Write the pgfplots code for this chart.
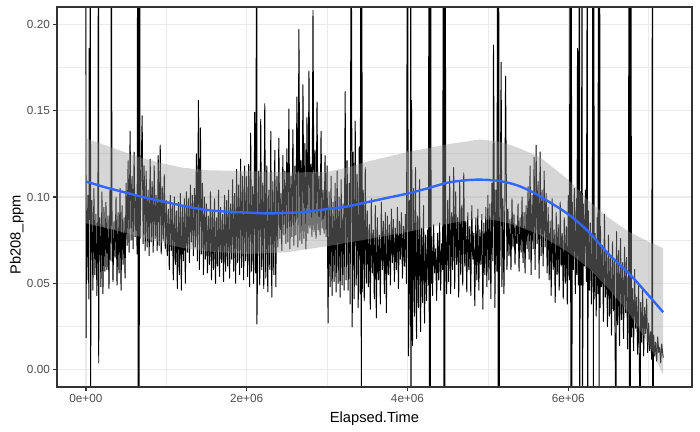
\documentclass[border=0pt]{standalone}
\usepackage{fontspec}
\setmainfont{Liberation Sans}
\usepackage{pgfplots}
\pgfplotsset{compat=1.18}
\definecolor{grey20}{HTML}{333333}
\definecolor{grey30}{HTML}{4D4D4D}
\definecolor{grey60}{HTML}{999999}
\definecolor{grey92}{HTML}{EBEBEB}
\definecolor{smoothblue}{HTML}{3366FF}
\begin{document}
\begin{tikzpicture}
\useasboundingbox (0,0) rectangle (700bp,432bp);
\begin{axis}[name=ax,
  at={(57bp,45bp)}, anchor=south west,
  width=635bp, height=380bp, scale only axis,
  xmin=-0.359, xmax=7.539, ymin=-0.01, ymax=0.21,
  xtick={0,2,4,6}, xticklabels={0e+00,2e+06,4e+06,6e+06},
  ytick={0,0.05,0.1,0.15,0.2}, yticklabels={0.00,0.05,0.10,0.15,0.20},
  minor xtick={1,3,5,7}, minor ytick={0.025,0.075,0.125,0.175},
  grid=both,
  major grid style={grey92, line width=1.42bp},
  minor grid style={grey92, line width=0.71bp},
  tick pos=left, tick align=outside,
  major tick length=3.67bp, minor tick length=0pt,
  tick style={grey20, line width=1.42bp},
  axis line style={grey20, line width=1.42bp},
  ticklabel style={font=\fontsize{11.73bp}{13bp}\selectfont, text=grey30},
]
% raw signal
\addplot[black, line width=0.95bp, line join=round] coordinates {
(0,0.30) (0.003,0.0185) (0.008,0.092) (0.0125,0.052)
(0.025,0.101) (0.0375,0.041) (0.041,0.186)
(0.05,0.087) (0.057,0.30) (0.059,-0.05) (0.0625,0.058)
(0.075,0.098) (0.0875,0.046) (0.1,0.105) (0.1125,0.055)
(0.125,0.090) (0.1375,0.043)
(0.15,0.096) (0.157,0.30) (0.16,0.004) (0.1625,0.060)
(0.175,0.088) (0.1875,0.048) (0.2,0.103) (0.2125,0.044)
(0.225,0.094) (0.2375,0.057)
(0.25,0.097) (0.2625,0.058) (0.275,0.089) (0.2875,0.047)
(0.3,0.104) (0.3125,0.063) (0.315,0.30)
(0.325,0.093) (0.3375,0.051) (0.35,0.086) (0.3625,0.065)
(0.375,0.100) (0.3875,0.049) (0.4,0.091) (0.4125,0.056)
(0.425,0.105) (0.4375,0.046) (0.45,0.095) (0.4625,0.061)
(0.475,0.088) (0.4875,0.053)
(0.5,0.108) (0.5125,0.072) (0.525,0.121) (0.5375,0.068)
(0.55,0.138) (0.5625,0.075) (0.575,0.112) (0.5875,0.070)
(0.6,0.126) (0.6125,0.077) (0.625,0.101) (0.6375,0.067)
(0.645,0.30) (0.651,-0.05) (0.657,0.30) (0.663,-0.05) (0.669,0.30) (0.674,0.076)
(0.7,0.147) (0.7125,0.073) (0.725,0.118) (0.7375,0.069)
(0.75,0.115) (0.7625,0.071) (0.775,0.104) (0.7875,0.066)
(0.8,0.122) (0.8125,0.074) (0.825,0.109) (0.8375,0.068)
(0.85,0.118) (0.8625,0.076) (0.875,0.101) (0.8875,0.069)
(0.9,0.124) (0.9125,0.072) (0.925,0.130) (0.9375,0.067)
(0.95,0.106) (0.9625,0.075) (0.975,0.113) (0.9875,0.070)
(1,0.098) (1.0125,0.066) (1.025,0.093) (1.0375,0.058)
(1.05,0.101) (1.0625,0.069) (1.075,0.095) (1.0875,0.052)
(1.1,0.100) (1.1125,0.061) (1.125,0.092) (1.1375,0.047)
(1.15,0.097) (1.1625,0.055) (1.175,0.102) (1.1875,0.046)
(1.2,0.094) (1.2125,0.063) (1.225,0.099) (1.2375,0.050)
(1.25,0.103) (1.2625,0.068) (1.275,0.099) (1.2875,0.062)
(1.3,0.107) (1.3125,0.074) (1.325,0.101) (1.3375,0.066)
(1.35,0.105) (1.3625,0.071) (1.375,0.125) (1.3875,0.063)
(1.4,0.156) (1.4125,0.058) (1.425,0.140) (1.4375,0.067)
(1.45,0.108) (1.4625,0.055) (1.475,0.100) (1.4875,0.064)
(1.5,0.096) (1.5125,0.056) (1.525,0.089) (1.5375,0.061)
(1.55,0.103) (1.5625,0.052) (1.575,0.092) (1.5875,0.058)
(1.6,0.099) (1.6125,0.050) (1.625,0.088) (1.6375,0.060)
(1.65,0.104) (1.6625,0.054) (1.675,0.094) (1.6875,0.062)
(1.7,0.090) (1.7125,0.051) (1.725,0.101) (1.7375,0.057)
(1.75,0.098) (1.7625,0.060) (1.775,0.104) (1.7875,0.053)
(1.8,0.096) (1.8125,0.064) (1.825,0.110) (1.8375,0.057)
(1.85,0.102) (1.8625,0.050) (1.875,0.116) (1.8875,0.062)
(1.9,0.107) (1.9125,0.055) (1.925,0.122) (1.9375,0.059)
(1.95,0.112) (1.9625,0.052) (1.975,0.118) (1.9875,0.063)
(2,0.112) (2.0125,0.054) (2.025,0.119) (2.0375,0.048)
(2.05,0.137) (2.0625,0.057) (2.075,0.106) (2.0875,0.050)
(2.1,0.149) (2.1125,0.056) (2.125,0.30) (2.1275,0.0265)
(2.15,0.115) (2.1625,0.049) (2.175,0.145) (2.1875,0.058)
(2.2,0.108) (2.2125,0.047) (2.225,0.154) (2.2375,0.053)
(2.25,0.118) (2.2625,0.045) (2.275,0.104) (2.2875,0.058)
(2.3,0.138) (2.3125,0.042) (2.325,0.109) (2.3375,0.055)
(2.35,0.127) (2.3625,0.048) (2.375,0.112) (2.3875,0.071)
(2.4,0.134) (2.4125,0.076) (2.425,0.102) (2.4375,0.069)
(2.45,0.124) (2.4625,0.078) (2.475,0.115) (2.4875,0.073)
(2.5,0.128) (2.5125,0.074) (2.525,0.151) (2.5375,0.070)
(2.55,0.112) (2.5625,0.077) (2.575,0.139) (2.5875,0.072)
(2.6,0.118) (2.6125,0.078) (2.625,0.158) (2.6375,0.071)
(2.65,0.197) (2.6625,0.075) (2.675,0.121) (2.6875,0.073)
(2.7,0.165) (2.7125,0.076) (2.725,0.131) (2.7375,0.070)
(2.75,0.146) (2.7625,0.079) (2.775,0.173) (2.7875,0.082)
(2.8,0.119) (2.8125,0.077) (2.825,0.208) (2.8375,0.080)
(2.85,0.127) (2.8625,0.076) (2.875,0.155) (2.8875,0.081)
(2.9,0.112) (2.9125,0.078) (2.925,0.138) (2.9375,0.082)
(2.95,0.104) (2.9625,0.079) (2.975,0.124) (2.9875,0.077)
(3,0.118) (3.0125,0.027) (3.025,0.103) (3.0375,0.048)
(3.05,0.112) (3.0625,0.043) (3.075,0.097) (3.0875,0.051)
(3.1,0.108) (3.1125,0.045) (3.125,0.115) (3.1375,0.050)
(3.15,0.100) (3.1625,0.042) (3.175,0.110) (3.1875,0.049)
(3.2,0.096) (3.2125,0.046) (3.225,0.161) (3.2375,0.052)
(3.25,0.121) (3.2625,0.046) (3.275,0.108) (3.2875,0.038)
(3.3,0.30) (3.3125,0.0248) (3.325,0.126) (3.3375,0.041)
(3.35,0.144) (3.3625,0.049) (3.375,0.113) (3.3875,0.036)
(3.4,0.129) (3.4125,0.044)
(3.42,0.30) (3.426,-0.05) (3.432,0.30) (3.4375,0.045)
(3.45,0.104) (3.4625,0.040) (3.475,0.117) (3.4875,0.050)
(3.5,0.092) (3.5125,0.048) (3.525,0.084) (3.5375,0.035)
(3.55,0.099) (3.5625,0.056) (3.575,0.081) (3.5875,0.041)
(3.6,0.095) (3.6125,0.030) (3.625,0.088) (3.6375,0.052)
(3.65,0.078) (3.6625,0.038) (3.675,0.097) (3.6875,0.058)
(3.7,0.086) (3.7125,0.044) (3.725,0.091) (3.7375,0.033)
(3.75,0.089) (3.7625,0.055) (3.775,0.084) (3.7875,0.049)
(3.8,0.093) (3.8125,0.062) (3.825,0.087) (3.8375,0.051)
(3.85,0.082) (3.8625,0.058) (3.875,0.094) (3.8875,0.047)
(3.9,0.086) (3.9125,0.064) (3.925,0.091) (3.9375,0.053)
(3.95,0.083) (3.9625,0.060) (3.975,0.090) (3.9875,0.050)
(4,0.30) (4.0125,0.008)
(4.025,0.098) (4.0375,0.025) (4.041,0.30) (4.043,-0.05)
(4.05,0.156) (4.0625,0.014) (4.075,0.105) (4.0875,0.031)
(4.1,0.117) (4.1125,0.018) (4.125,0.089) (4.1375,0.036)
(4.15,0.110) (4.1625,0.022) (4.175,0.082) (4.1875,0.039)
(4.2,0.095) (4.2125,0.027) (4.225,0.078) (4.2375,0.040)
(4.25,0.081) (4.2625,0.049)
(4.266,0.30) (4.272,-0.05) (4.278,0.30) (4.284,-0.05) (4.290,0.30) (4.294,0.050)
(4.3,0.077) (4.3125,0.043) (4.325,0.084) (4.3375,0.056)
(4.35,0.070) (4.3625,0.040) (4.375,0.079) (4.3875,0.052)
(4.4,0.085) (4.4125,0.046) (4.425,0.073) (4.4375,0.058)
(4.447,0.30) (4.453,-0.05) (4.459,0.30) (4.465,-0.05) (4.471,0.30)
(4.475,0.082) (4.4875,0.044)
(4.5,0.098) (4.5125,0.051) (4.525,0.112) (4.5375,0.044)
(4.55,0.091) (4.5625,0.058) (4.575,0.117) (4.5875,0.047)
(4.6,0.103) (4.6125,0.061) (4.625,0.088) (4.6375,0.042)
(4.65,0.109) (4.6625,0.055) (4.675,0.095) (4.6875,0.049)
(4.7,0.114) (4.7125,0.060) (4.725,0.086) (4.7375,0.045)
(4.75,0.091) (4.7625,0.058) (4.775,0.083) (4.7875,0.043)
(4.8,0.095) (4.8125,0.064) (4.825,0.079) (4.8375,0.037)
(4.85,0.088) (4.8625,0.052) (4.875,0.093) (4.8875,0.046)
(4.9,0.081) (4.9125,0.061) (4.925,0.090) (4.9375,0.035)
(4.95,0.085) (4.9625,0.055) (4.975,0.094) (4.9875,0.048)
(5,0.101) (5.0125,0.052) (5.025,0.096) (5.0375,0.041)
(5.05,0.108) (5.0625,0.063) (5.07,0.188) (5.0875,0.036)
(5.1,0.104) (5.1125,0.057)
(5.122,0.30) (5.128,-0.05) (5.134,0.30) (5.140,-0.05) (5.145,0.062)
(5.15,0.060) (5.165,0.178) (5.175,0.048) (5.1875,0.099)
(5.2,0.044) (5.2125,0.106) (5.22,0.170) (5.2375,0.058)
(5.25,0.093) (5.2625,0.066) (5.275,0.087) (5.2875,0.058)
(5.3,0.099) (5.3125,0.071) (5.325,0.090) (5.3375,0.061)
(5.35,0.084) (5.3625,0.073) (5.375,0.096) (5.3875,0.057)
(5.4,0.088) (5.4125,0.068) (5.425,0.100) (5.4375,0.062)
(5.45,0.091) (5.4625,0.056) (5.475,0.095) (5.4875,0.070)
(5.5,0.106) (5.5125,0.064) (5.525,0.118) (5.5375,0.055)
(5.55,0.101) (5.5625,0.070) (5.575,0.123) (5.5875,0.058)
(5.6,0.130) (5.6125,0.073) (5.625,0.109) (5.6375,0.053)
(5.65,0.126) (5.6625,0.066) (5.675,0.104) (5.6875,0.060)
(5.7,0.115) (5.7125,0.071) (5.725,0.102) (5.7375,0.056)
(5.75,0.094) (5.7625,0.052) (5.775,0.086) (5.7875,0.043)
(5.8,0.099) (5.8125,0.058) (5.825,0.081) (5.8375,0.039)
(5.85,0.091) (5.8625,0.055) (5.875,0.084) (5.8875,0.046)
(5.9,0.097) (5.9125,0.060) (5.925,0.079) (5.9375,0.041)
(5.95,0.088) (5.9625,0.050) (5.975,0.083) (5.9875,0.038)
(6,0.101) (6.0125,0.052)
(6.026,0.30) (6.032,-0.05) (6.038,0.30) (6.044,-0.05)
(6.05,0.097) (6.0625,0.058) (6.075,0.105) (6.0875,0.044)
(6.1,0.099) (6.1075,0.055) (6.115,0.186) (6.125,0.049)
(6.14,0.30) (6.142,-0.05)
(6.15,0.103) (6.1625,0.049) (6.173,0.30) (6.175,-0.05)
(6.1875,0.096) (6.2,0.060) (6.2125,0.104) (6.225,0.051)
(6.238,0.30) (6.240,-0.05)
(6.25,0.092) (6.2625,0.046) (6.275,0.085) (6.2875,0.038)
(6.3,0.088) (6.306,0.30) (6.312,-0.05) (6.318,0.30) (6.322,0.041)
(6.335,0.079) (6.3475,0.031) (6.36,0.088) (6.3675,0.044)
(6.378,0.30) (6.384,-0.05) (6.390,0.30) (6.395,0.036)
(6.4,0.083) (6.4125,0.048) (6.425,0.072) (6.4375,0.028)
(6.45,0.090) (6.4625,0.042) (6.475,0.069) (6.4875,0.025)
(6.5,0.078) (6.5125,0.031) (6.525,0.066) (6.5375,0.020)
(6.55,0.074) (6.5625,0.034) (6.575,0.063) (6.5925,-0.05)
(6.6,0.080) (6.6125,0.026) (6.625,0.069) (6.6375,0.014)
(6.65,0.076) (6.6625,0.029) (6.675,0.062) (6.6875,0.018)
(6.7,0.071) (6.7125,0.033) (6.725,0.065) (6.7375,0.012)
(6.75,0.058) (6.754,0.30) (6.76,-0.05) (6.766,0.30) (6.772,-0.05) (6.778,0.30) (6.7875,0.019)
(6.8,0.047) (6.8125,0.011) (6.825,0.058) (6.8375,0.024)
(6.85,0.042) (6.8625,0.009) (6.875,0.050) (6.895,-0.05)
(6.9,0.039) (6.9125,0.016) (6.925,0.046) (6.9375,0.008)
(6.95,0.036) (6.9625,0.021) (6.975,0.041) (6.9875,0.010)
(7,0.027) (7.0125,0.011) (7.025,0.022) (7.0375,0.006)
(7.048,0.30) (7.05,-0.05)
(7.0625,0.020) (7.075,0.008) (7.0875,0.016) (7.1,0.005)
(7.1125,0.019) (7.125,0.010) (7.1375,0.013) (7.15,0.004)
(7.1625,0.015) (7.18,0.007)
};
% confidence band
\addplot[draw=none, fill=grey60, fill opacity=0.4] coordinates {
(0,0.134) (0.3,0.129) (0.6,0.124) (0.9,0.120) (1.2,0.117) (1.5,0.1155)
(2.0,0.115) (2.5,0.1142) (3.0,0.1145) (3.25,0.117) (3.5,0.1205) (4.0,0.126)
(4.5,0.1305) (4.9,0.1333) (5.15,0.132) (5.35,0.129) (5.65,0.123) (6.0,0.110)
(6.25,0.098) (6.5,0.088) (6.75,0.080) (7.0,0.074) (7.18,0.0704)
(7.18,-0.003) (7.0,0.015) (6.75,0.033) (6.5,0.047) (6.25,0.059) (6.0,0.068)
(5.65,0.078) (5.35,0.0835) (5.15,0.086) (4.9,0.0877) (4.5,0.0845) (4.0,0.0798)
(3.5,0.0755) (3.0,0.0715) (2.5,0.068) (2.0,0.067) (1.5,0.0685) (1.2,0.0705)
(0.9,0.074) (0.6,0.078) (0.3,0.0815) (0,0.0848)
};
% smooth fit
\addplot[smoothblue, line width=2.4bp, smooth] coordinates {
(0,0.109) (0.25,0.1055) (0.5,0.1025) (0.75,0.0995) (1.0,0.097) (1.25,0.0945)
(1.5,0.0925) (1.75,0.0915) (2.0,0.091) (2.25,0.0905) (2.5,0.0908) (2.75,0.0915)
(3.0,0.093) (3.25,0.0945) (3.5,0.097) (3.75,0.0995) (4.0,0.102) (4.25,0.105)
(4.5,0.1083) (4.75,0.1098) (4.95,0.110) (5.15,0.1092) (5.35,0.107) (5.55,0.103)
(5.75,0.0975) (6.0,0.090) (6.25,0.080) (6.5,0.067) (6.75,0.056) (7.0,0.043)
(7.18,0.0333)
};
\end{axis}
\draw[grey20, line width=1.42bp] (ax.south west) rectangle (ax.north east);
\node[anchor=base, font=\fontsize{14.67bp}{17bp}\selectfont] at (374.5bp,10bp) {Elapsed.Time};
\node[anchor=base, rotate=90, font=\fontsize{14.67bp}{17bp}\selectfont] at (20.5bp,197bp) {Pb208\_ppm};
\end{tikzpicture}
\end{document}
